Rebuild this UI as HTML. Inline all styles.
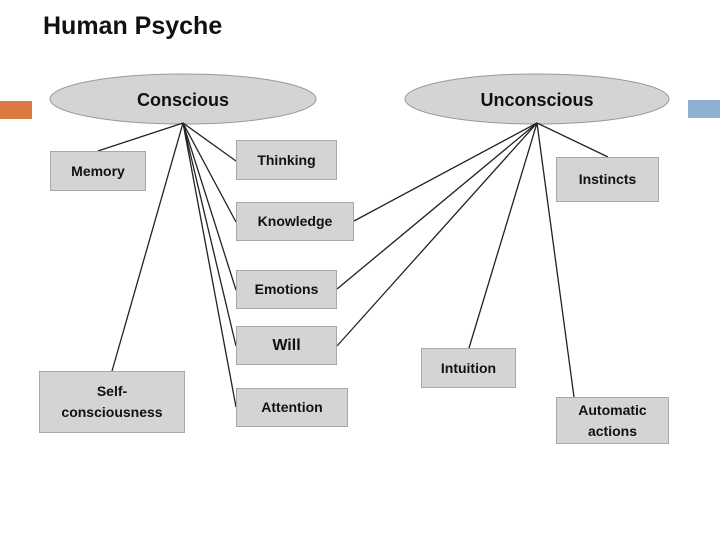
<!DOCTYPE html>
<html><head><style>
body{margin:0;width:720px;height:540px;background:#fff;position:relative;overflow:hidden;font-family:"Liberation Sans",sans-serif;}
.b{position:absolute;background:#d4d4d4;border:1px solid #a8a8a8;box-sizing:border-box;display:flex;align-items:center;justify-content:center;text-align:center;font-size:14px;font-weight:bold;color:#111;line-height:21px;}
svg{position:absolute;left:0;top:0}
</style></head><body>
<div style="position:absolute;left:43px;top:12px;font-size:25px;font-weight:bold;color:#111">Human Psyche</div>
<div style="position:absolute;left:0;top:101px;width:32px;height:18px;background:#d9793f"></div>
<div style="position:absolute;left:688px;top:100px;width:32px;height:18px;background:#8fb0d3"></div>
<svg width="720" height="540">
<ellipse cx="183" cy="99" rx="133" ry="25" fill="#d4d4d4" stroke="#999"/>
<ellipse cx="537" cy="99" rx="132" ry="25" fill="#d4d4d4" stroke="#999"/>
<g stroke="#222" stroke-width="1.3" fill="none">
<line x1="183" y1="123" x2="98" y2="151"/>
<line x1="183" y1="123" x2="236" y2="161"/>
<line x1="183" y1="123" x2="112" y2="371"/>
<line x1="183" y1="123" x2="236" y2="222"/>
<line x1="183" y1="123" x2="236" y2="290"/>
<line x1="183" y1="123" x2="236" y2="346"/>
<line x1="183" y1="123" x2="236" y2="407"/>
<line x1="537" y1="123" x2="608" y2="157"/>
<line x1="537" y1="123" x2="354" y2="221"/>
<line x1="537" y1="123" x2="337" y2="289"/>
<line x1="537" y1="123" x2="337" y2="346"/>
<line x1="537" y1="123" x2="469" y2="348"/>
<line x1="537" y1="123" x2="574" y2="397"/>
</g>
<text x="183" y="106" text-anchor="middle" font-family="Liberation Sans" font-weight="bold" font-size="18" fill="#111">Conscious</text>
<text x="537" y="106" text-anchor="middle" font-family="Liberation Sans" font-weight="bold" font-size="18" fill="#111">Unconscious</text>
</svg>
<div class="b" style="left:50px;top:151px;width:96px;height:40px">Memory</div>
<div class="b" style="left:236px;top:140px;width:101px;height:40px;align-items:flex-start;padding-top:9px">Thinking</div>
<div class="b" style="left:556px;top:157px;width:103px;height:45px">Instincts</div>
<div class="b" style="left:236px;top:202px;width:118px;height:39px">Knowledge</div>
<div class="b" style="left:236px;top:270px;width:101px;height:39px">Emotions</div>
<div class="b" style="left:236px;top:326px;width:101px;height:39px;align-items:flex-start;padding-top:8px;font-size:16px">Will</div>
<div class="b" style="left:421px;top:348px;width:95px;height:40px">Intuition</div>
<div class="b" style="left:39px;top:371px;width:146px;height:62px">Self-<br>consciousness</div>
<div class="b" style="left:236px;top:388px;width:112px;height:39px">Attention</div>
<div class="b" style="left:556px;top:397px;width:113px;height:47px">Automatic<br>actions</div>
</body></html>
